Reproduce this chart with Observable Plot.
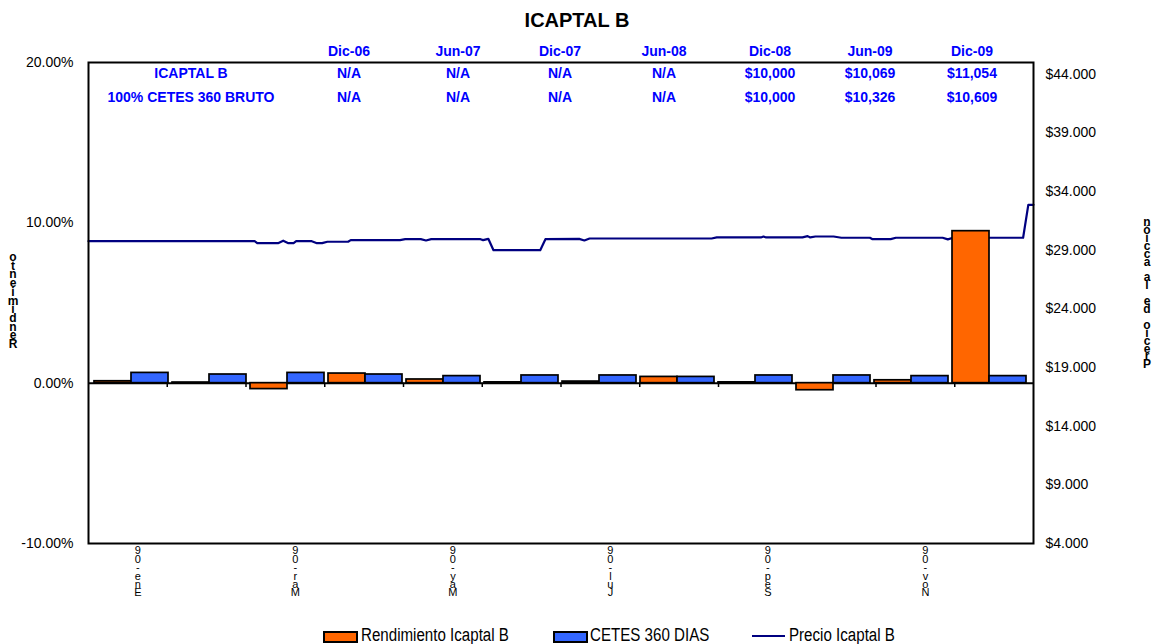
<!DOCTYPE html>
<html>
<head>
<meta charset="utf-8">
<script src="https://cdn.jsdelivr.net/npm/d3@7"></script>
<script src="https://cdn.jsdelivr.net/npm/@observablehq/plot@0.6"></script>
<style>
  html, body { margin: 0; padding: 0; background: #fff; }
  #root { position: relative; width: 1152px; height: 644px; overflow: hidden; font-family: "Liberation Sans", Arial, sans-serif; }
  #root svg { position: absolute; left: 0; top: 0; }
  .abs { position: absolute; white-space: pre; }
</style>
</head>
<body>
<div id="root"></div>
<script>
// ---------------- DATA ----------------
const chartTitle = "ICAPTAL B";
const months = ["Ene-09","Feb-09","Mar-09","Abr-09","May-09","Jun-09","Jul-09","Ago-09","Sep-09","Oct-09","Nov-09","Dic-09"];
const labeledMonths = ["Ene-09","Mar-09","May-09","Jul-09","Sep-09","Nov-09"];
const seriesNames = ["Rendimiento Icaptal B","CETES 360 DIAS"];
const rendimientoIcaptal = [0.12, 0.04, -0.37, 0.60, 0.23, 0.05, 0.10, 0.39, 0.05, -0.44, 0.18, 9.48];
const cetes360 = [0.64, 0.54, 0.64, 0.54, 0.44, 0.48, 0.48, 0.39, 0.48, 0.48, 0.44, 0.44];
const percentTicks = [-10, 0, 10, 20];
const priceTicks = [4, 9, 14, 19, 24, 29, 34, 39, 44];
const priceDates = ["2009-01-01","2009-03-06","2009-03-07","2009-03-15","2009-03-17","2009-03-19","2009-03-21","2009-03-22","2009-03-28","2009-03-30","2009-04-01","2009-04-03","2009-04-11","2009-04-12","2009-05-01","2009-05-03","2009-05-09","2009-05-11","2009-05-13","2009-06-01","2009-06-02","2009-06-04","2009-06-06","2009-06-24","2009-06-26","2009-07-09","2009-07-11","2009-07-13","2009-08-29","2009-08-31","2009-09-17","2009-09-18","2009-09-19","2009-10-03","2009-10-05","2009-10-06","2009-10-08","2009-10-15","2009-10-18","2009-10-29","2009-10-30","2009-11-06","2009-11-08","2009-11-26","2009-11-28","2009-11-30","2009-12-27","2009-12-29","2009-12-31"];
const precioIcaptal = [29.77,29.77,29.60,29.60,29.81,29.60,29.60,29.77,29.77,29.60,29.60,29.72,29.72,29.86,29.86,29.94,29.94,29.83,29.94,29.94,29.86,29.97,29.00,29.00,29.94,29.97,29.83,30.00,30.00,30.09,30.09,30.17,30.09,30.09,30.20,30.09,30.17,30.17,30.06,30.06,29.94,29.94,30.06,30.06,29.92,30.06,30.06,32.87,32.87];
const lineName = "Precio Icaptal B";
const leftAxisTitle = "Rendimiento";
const rightAxisTitle = "Precio de la acción";
const tableHeaders = ["Dic-06","Jun-07","Dic-07","Jun-08","Dic-08","Jun-09","Dic-09"];
const tableRowLabels = ["ICAPTAL B","100% CETES 360 BRUTO"];
const tableIcaptal = ["N/A","N/A","N/A","N/A","$10,000","$10,069","$11,054"];
const tableCetes = ["N/A","N/A","N/A","N/A","$10,000","$10,326","$10,609"];

// ---------------- LAYOUT ----------------
const W = 1152, H = 644;
const M = {top: 62, bottom: 101, left: 88, right: 119};
const ORANGE = "#FF6600", BLUE = "#3366FF", NAVY = "#000080", TBLUE = "#0000FF";
const FONT = "'Liberation Sans', Arial, sans-serif";
const root = document.getElementById("root");
const stack = s => [...s].reverse().join("\n");
const base = {width: W, height: H, marginTop: M.top, marginBottom: M.bottom, marginLeft: M.left, marginRight: M.right,
  style: {fontFamily: FONT, fontSize: "14px", color: "black", background: "transparent", overflow: "visible"}};

// ---- line (secondary axis) ----
const priceData = priceDates.map((d, i) => ({date: new Date(d + "T00:00:00Z"), price: precioIcaptal[i]}));
const linePlot = Plot.plot({
  ...base,
  x: {type: "utc", domain: [new Date("2009-01-01T00:00:00Z"), new Date("2009-12-31T00:00:00Z")], axis: null},
  y: {domain: [4, 45]},
  marks: [
    Plot.line(priceData, {x: "date", y: "price", stroke: NAVY, strokeWidth: 2.2}),
    Plot.axisY({anchor: "right", ticks: priceTicks, tickFormat: d => "$" + d.toFixed(3), tickSize: 0, tickPadding: 12, label: null, fontSize: 14})
  ]
});
root.appendChild(linePlot);

// ---- frame, primary axis, zero line, x labels ----
const frameMarks = Plot.plot({
  ...base,
  x: {domain: [0, months.length], axis: null},
  y: {domain: [-10, 20]},
  marks: [
    Plot.frame({stroke: "black", strokeWidth: 2}),
    Plot.ruleY([0], {stroke: "black", strokeWidth: 2}),
    Plot.ruleX(d3.range(1, months.length), {x: d => d, y1: 0, y2: -0.27, stroke: "black", strokeWidth: 1.5}),
    Plot.axisY({ticks: percentTicks, tickFormat: d => d.toFixed(2) + "%", tickSize: 0, tickPadding: 15, label: null, fontSize: 14}),
    Plot.text(labeledMonths, {x: d => months.indexOf(d) + 0.5, frameAnchor: "bottom", lineAnchor: "top", dy: 5, dx: 10,
      text: d => stack(d), lineHeight: 0.76, fontSize: 11, fill: "black"})
  ]
});
root.appendChild(frameMarks);

// ---- grouped bars ----
const barData = months.flatMap((m, i) => [
  {month: m, series: seriesNames[0], value: rendimientoIcaptal[i]},
  {month: m, series: seriesNames[1], value: cetes360[i]}
]);
const barPlot = Plot.plot({
  ...base,
  fx: {domain: months, paddingInner: 0.045, paddingOuter: 0.02, axis: null},
  x: {domain: seriesNames, padding: 0, axis: null},
  y: {domain: [-10, 20], axis: null},
  color: {domain: seriesNames, range: [ORANGE, BLUE]},
  marks: [
    Plot.barY(barData, {fx: "month", x: "series", y: "value", fill: "series", stroke: "black", strokeWidth: 1.7})
  ]
});
root.appendChild(barPlot);

// ---- html text: title, table, axis titles, legend ----
function addText(txt, css) {
  const el = document.createElement("div");
  el.className = "abs";
  el.textContent = txt;
  Object.assign(el.style, css);
  root.appendChild(el);
  return el;
}
function centered(txt, cx, cy, css) {
  return addText(txt, Object.assign({left: (cx - 200) + "px", width: "400px", textAlign: "center",
    top: (cy - 10) + "px", lineHeight: "20px"}, css));
}
centered(chartTitle, 577, 20, {fontSize: "20px", fontWeight: "bold", color: "black"});

const colX = [349, 458, 560, 664, 770, 870, 972];
const rowY = [51, 73, 97];
const tCss = {fontSize: "14px", fontWeight: "bold", color: TBLUE};
tableHeaders.forEach((h, i) => centered(h, colX[i], rowY[0], tCss));
centered(tableRowLabels[0], 191, rowY[1], tCss);
centered(tableRowLabels[1], 191, rowY[2], tCss);
tableIcaptal.forEach((v, i) => centered(v, colX[i], rowY[1], tCss));
tableCetes.forEach((v, i) => centered(v, colX[i], rowY[2], tCss));

addText(stack(leftAxisTitle), {left: "3px", width: "20px", textAlign: "center", top: "253px",
  fontSize: "12px", fontWeight: "bold", lineHeight: "8.7px", color: "black"});
addText(stack(rightAxisTitle), {left: "1137px", width: "20px", textAlign: "center", top: "219px",
  fontSize: "12px", fontWeight: "bold", lineHeight: "7.9px", color: "black"});

// legend
function swatch(x, color) {
  const el = document.createElement("div");
  Object.assign(el.style, {position: "absolute", left: x + "px", top: "631px", width: "31px", height: "8px",
    background: color, border: "2px solid black"});
  root.appendChild(el);
}
function lineSwatch(x) {
  const el = document.createElement("div");
  Object.assign(el.style, {position: "absolute", left: x + "px", top: "634.5px", width: "33px", height: "2.5px", background: NAVY});
  root.appendChild(el);
}
const legCss = {top: "626px", fontSize: "18px", lineHeight: "18px", color: "black", transform: "scaleX(0.84)", transformOrigin: "0 0"};
swatch(323, ORANGE);
addText(seriesNames[0], Object.assign({left: "361px"}, legCss));
swatch(553, BLUE);
addText(seriesNames[1], Object.assign({left: "590px"}, legCss));
lineSwatch(752);
addText(lineName, Object.assign({left: "789px"}, legCss));
</script>
</body>
</html>
